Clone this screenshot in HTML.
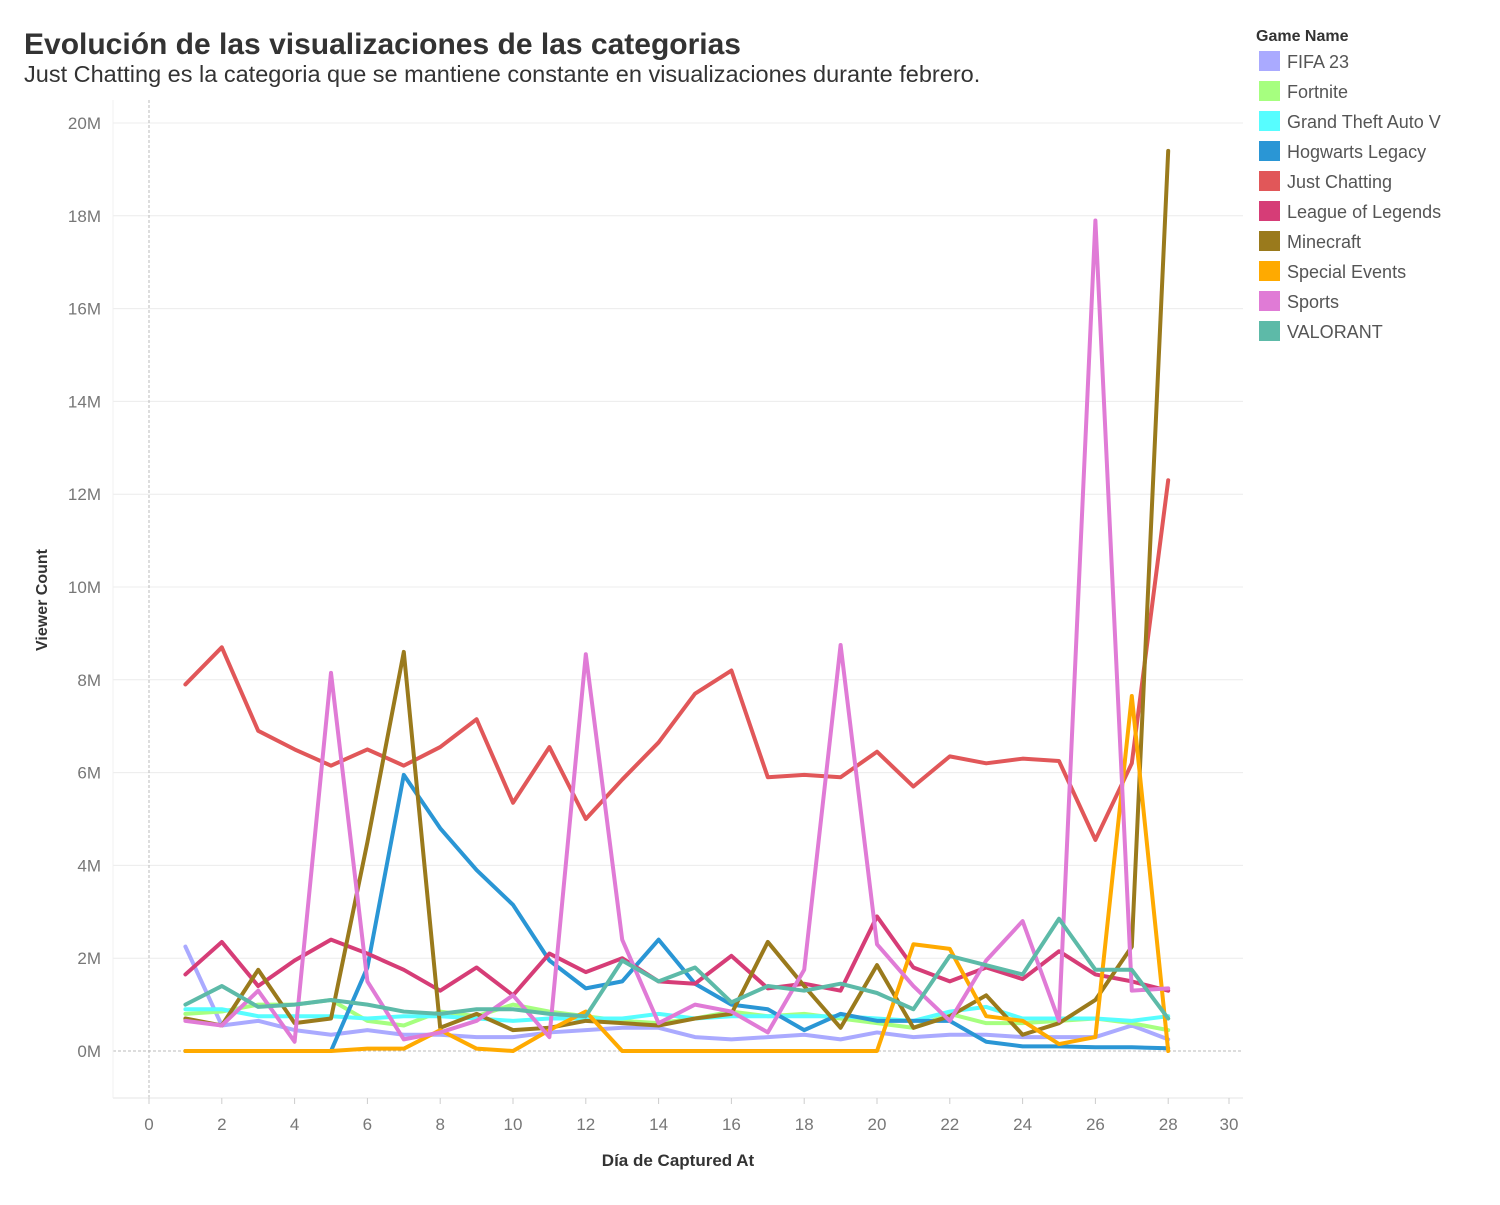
<!DOCTYPE html>
<html><head><meta charset="utf-8"><style>
body{margin:0;background:#fff;font-family:"Liberation Sans",sans-serif;}
svg text{font-family:"Liberation Sans",sans-serif;}
</style></head><body>
<svg id="c" width="1500" height="1200">
<text x="24" y="54" font-size="30" font-weight="bold" fill="#333">Evolución de las visualizaciones de las categorias</text>
<text x="24" y="82" font-size="23.5" fill="#333">Just Chatting es la categoria que se mantiene constante en visualizaciones durante febrero.</text>
<text transform="translate(47,600) rotate(-90)" text-anchor="middle" font-size="16" font-weight="bold" fill="#333">Viewer Count</text>
<text x="678" y="1166" text-anchor="middle" font-size="17" font-weight="bold" fill="#333">Día de Captured At</text>
<text x="1256" y="41" font-size="16" font-weight="bold" fill="#333">Game Name</text>
<g id="grid"></g><g id="lines"></g><g id="legend"></g>
</svg>
<script>
const names=["FIFA 23","Fortnite","Grand Theft Auto V","Hogwarts Legacy","Just Chatting","League of Legends","Minecraft","Special Events","Sports","VALORANT"];
const colors=["#aaaaff","#a6ff7f","#57fdff","#2a96d5","#e15759","#d63d77","#9a7a1c","#ffaa00","#e07bd6","#5dbaa8"];
const days=[1,2,3,4,5,6,7,8,9,10,11,12,13,14,15,16,17,18,19,20,21,22,23,24,25,26,27,28];
const xTicks=[0,2,4,6,8,10,12,14,16,18,20,22,24,26,28,30];
const yTicks=[0,2,4,6,8,10,12,14,16,18,20];
const fifa=[2.25,0.55,0.65,0.45,0.35,0.45,0.35,0.35,0.3,0.3,0.4,0.45,0.5,0.5,0.3,0.25,0.3,0.35,0.25,0.4,0.3,0.35,0.35,0.3,0.3,0.3,0.55,0.25];
const fortnite=[0.8,0.85,1.0,1.0,1.1,0.65,0.55,0.85,0.75,1.0,0.85,0.75,0.65,0.6,0.7,0.85,0.75,0.8,0.7,0.6,0.5,0.8,0.6,0.6,0.65,0.7,0.6,0.45];
const gta=[0.9,0.9,0.75,0.75,0.75,0.7,0.75,0.75,0.7,0.65,0.7,0.7,0.7,0.8,0.7,0.75,0.75,0.75,0.75,0.7,0.65,0.85,0.95,0.7,0.7,0.7,0.65,0.75];
const hogwarts=[0,0,0,0,0,1.8,5.95,4.8,3.9,3.15,1.95,1.35,1.5,2.4,1.45,1.0,0.9,0.45,0.8,0.65,0.65,0.65,0.2,0.1,0.1,0.08,0.08,0.06];
const justChatting=[7.9,8.7,6.9,6.5,6.15,6.5,6.15,6.55,7.15,5.35,6.55,5.0,5.85,6.65,7.7,8.2,5.9,5.95,5.9,6.45,5.7,6.35,6.2,6.3,6.25,4.55,6.2,12.3];
const league=[1.65,2.35,1.4,1.95,2.4,2.1,1.75,1.3,1.8,1.2,2.1,1.7,2.0,1.5,1.45,2.05,1.35,1.45,1.3,2.9,1.8,1.5,1.8,1.55,2.15,1.65,1.5,1.3];
const minecraft=[0.7,0.55,1.75,0.6,0.7,4.5,8.6,0.5,0.8,0.45,0.5,0.65,0.6,0.55,0.7,0.8,2.35,1.4,0.5,1.85,0.5,0.75,1.2,0.35,0.6,1.1,2.25,19.4];
const special=[0,0,0,0,0,0.05,0.05,0.45,0.05,0,0.45,0.85,0,0,0,0,0,0,0,0,2.3,2.2,0.75,0.65,0.15,0.3,7.65,0];
const sports=[0.65,0.55,1.3,0.2,8.15,1.5,0.25,0.4,0.65,1.2,0.3,8.55,2.4,0.6,1.0,0.85,0.4,1.75,8.75,2.3,1.4,0.65,1.95,2.8,0.65,17.9,1.3,1.35];
const valorant=[1.0,1.4,0.95,1.0,1.1,1.0,0.85,0.8,0.9,0.9,0.8,0.75,1.95,1.5,1.8,1.05,1.4,1.3,1.45,1.25,0.9,2.05,1.85,1.65,2.85,1.75,1.75,0.7];
const series=[fifa,fortnite,gta,hogwarts,justChatting,league,minecraft,special,sports,valorant];
const NS="http://www.w3.org/2000/svg";
const x=d=>149+d*36.4;
const y=v=>1051-v*46.4;
function mk(t,a,p){const e=document.createElementNS(NS,t);for(const k in a)e.setAttribute(k,a[k]);p.appendChild(e);return e;}
const grid=document.getElementById('grid');
yTicks.forEach(v=>{
 if(v>0){const l=mk('line',{x1:113,x2:1243,y1:y(v),y2:y(v),stroke:'#ececec','stroke-width':1},grid);
 
 }
 const t=mk('text',{x:101,y:y(v)+6,'text-anchor':'end','font-size':17,fill:'#777'},grid);t.textContent=v+'M';
 
 
});
let z=mk('line',{x1:113,x2:1243,y1:y(0),y2:y(0),stroke:'#bbb','stroke-dasharray':'3,2'},grid);


let v0=mk('line',{x1:x(0),x2:x(0),y1:100,y2:1098,stroke:'#bbb','stroke-dasharray':'3,2'},grid);


let ax=mk('line',{x1:113,x2:1243,y1:1098,y2:1098,stroke:'#e6e6e6'},grid);


let ay=mk('line',{x1:113,x2:113,y1:100,y2:1098,stroke:'#f0f0f0'},grid);


xTicks.forEach(d=>{
 const px=d===30?1229:x(d);
 const tk=mk('line',{x1:px,x2:px,y1:1098,y2:1104,stroke:'#ccc'},grid);
 
 
 const t=mk('text',{x:px,y:1130,'text-anchor':'middle','font-size':17,fill:'#777'},grid);t.textContent=d;
 
 
});
const lines=document.getElementById('lines');
series.forEach((s,i)=>{
 const p=mk('polyline',{points:s.map((v,j)=>x(days[j])+','+y(v)).join(' '),fill:'none',stroke:colors[i],'stroke-width':4,'stroke-linejoin':'round','stroke-linecap':'round'},lines);
 
 
});
const lg=document.getElementById('legend');
names.forEach((n,i)=>{
 const g=mk('g',{},lg);
 
 
 mk('rect',{x:1259,y:51+i*30,width:21,height:20,fill:colors[i]},g);
 const t=mk('text',{x:1287,y:68+i*30,'font-size':18,fill:'#555'},g);t.textContent=n;
});
</script>
</body></html>
